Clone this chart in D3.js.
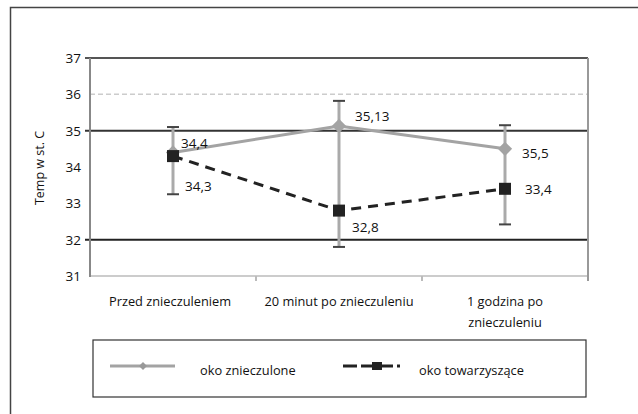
<!DOCTYPE html>
<html><head><meta charset="utf-8">
<script src="https://cdn.jsdelivr.net/npm/d3@7/dist/d3.min.js"></script>
<style>body{margin:0;background:#fff;} svg{display:block;} text{font-family:"Open Sans","DejaVu Sans",sans-serif;fill:#111;}</style>
</head><body>
<svg id="c" width="638" height="414"></svg>
<script>
const categories = [["Przed znieczuleniem"], ["20 minut po znieczuleniu"], ["1 godzina po", "znieczuleniu"]];
const yTicks = [31, 32, 33, 34, 35, 36, 37];
const seriesNames = ["oko znieczulone", "oko towarzyszące"];
const znieczulone = [34.4, 35.13, 34.5];
const znieczuloneLabels = ["34,4", "35,13", "35,5"];
const znieczuloneErrTop = [35.1, 35.82, 35.15];
const towarzyszace = [34.3, 32.8, 33.4];
const towarzyszaceLabels = ["34,3", "32,8", "33,4"];
const towarzyszaceErrBottom = [33.25, 31.8, 32.42];
const yTitle = "Temp w st. C";

const svg = d3.select("#c");
const L = 90, R = 588, T = 58, B = 276;
const x = d3.scaleBand().domain(d3.range(categories.length)).range([L, R]);
const y = d3.scaleLinear().domain([31, 37]).range([B, T]);
const cx = i => x(i) + x.bandwidth() / 2;

// outer frame
svg.append("path").attr("d", "M10.5,414 L10.5,7.5 L638,7.5").attr("fill", "none").attr("stroke", "#444").attr("stroke-width", 1.5);

// gridlines
const gridStyle = {37: ["#555", 2, null], 36: ["#ccc", 1.5, "5,3"], 35: ["#333", 2, null], 32: ["#222", 2, null], 31: ["#ccc", 2, null]};
yTicks.forEach(t => {
  const g = gridStyle[t];
  if (!g) return;
  svg.append("line").attr("x1", t === 36 || t === 31 ? L : L - 5).attr("x2", R).attr("y1", y(t)).attr("y2", y(t))
    .attr("stroke", g[0]).attr("stroke-width", g[1]).attr("stroke-dasharray", g[2]);
});
// left axis & right border
svg.append("line").attr("x1", L).attr("x2", L).attr("y1", T).attr("y2", B + 1).attr("stroke", "#888").attr("stroke-width", 2);
svg.append("line").attr("x1", R).attr("x2", R).attr("y1", T).attr("y2", B + 5).attr("stroke", "#999").attr("stroke-width", 2);
// x tick marks between categories
d3.range(1, categories.length).forEach(i => {
  svg.append("line").attr("x1", x(i)).attr("x2", x(i)).attr("y1", B).attr("y2", B + 5).attr("stroke", "#bbb").attr("stroke-width", 2);
});

// y tick labels
svg.append("g").selectAll("text").data(yTicks).join("text")
  .attr("x", 81).attr("y", d => y(d)).attr("dy", "0.36em").attr("text-anchor", "end")
  .attr("font-size", 13.5).text(d => d);

// y title
svg.append("text").attr("transform", `translate(44,${(T + B) / 2 + 1}) rotate(-90)`).attr("text-anchor", "middle")
  .attr("font-size", 12.5).text(yTitle);

// x labels
categories.forEach((lines, i) => {
  lines.forEach((s, j) => {
    svg.append("text").attr("x", cx(i) + (i === 0 ? -3 : 0)).attr("y", B + 30 + j * 21).attr("text-anchor", "middle")
      .attr("font-size", 12.8).text(s);
  });
});

// error bars
const errColor = "#aaa";
categories.forEach((c, i) => {
  const top = y(znieczuloneErrTop[i]), bot = y(towarzyszaceErrBottom[i]);
  svg.append("line").attr("x1", cx(i)).attr("x2", cx(i)).attr("y1", top).attr("y2", bot).attr("stroke", errColor).attr("stroke-width", 3);
  [top, bot].forEach(v => svg.append("line").attr("x1", cx(i) - 6).attr("x2", cx(i) + 6).attr("y1", v).attr("y2", v).attr("stroke", "#444").attr("stroke-width", 2));
});

// gray series
const line = d3.line().x((d, i) => cx(i)).y(d => y(d));
svg.append("path").attr("d", line(znieczulone)).attr("fill", "none").attr("stroke", "#a3a3a3").attr("stroke-width", 3);
svg.append("g").selectAll("path").data(znieczulone).join("path")
  .attr("d", d3.symbol().type(d3.symbolDiamond2).size(130)())
  .attr("transform", (d, i) => `translate(${cx(i)},${y(d)})`).attr("fill", "#a3a3a3");

// black dashed series
svg.append("path").attr("d", line(towarzyszace)).attr("fill", "none").attr("stroke", "#222").attr("stroke-width", 3).attr("stroke-dasharray", "10,7");
svg.append("g").selectAll("rect").data(towarzyszace).join("rect")
  .attr("x", (d, i) => cx(i) - 6).attr("y", d => y(d) - 6).attr("width", 12).attr("height", 12).attr("fill", "#222");

// data labels
const lblOffZ = [[8, -9], [16, -10], [17, 4]];
znieczulone.forEach((d, i) => {
  svg.append("text").attr("x", cx(i) + lblOffZ[i][0]).attr("y", y(d) + lblOffZ[i][1]).attr("dy", "0.36em")
    .attr("font-size", 13.5).text(znieczuloneLabels[i]);
});
const lblOffT = [[12, 30], [13, 17], [20, 0]];
towarzyszace.forEach((d, i) => {
  svg.append("text").attr("x", cx(i) + lblOffT[i][0]).attr("y", y(d) + lblOffT[i][1]).attr("dy", "0.36em")
    .attr("font-size", 13.5).text(towarzyszaceLabels[i]);
});

// legend
svg.append("rect").attr("x", 93).attr("y", 340).attr("width", 493).attr("height", 57).attr("fill", "none").attr("stroke", "#333").attr("stroke-width", 1.2);
const ly = 366;
svg.append("line").attr("x1", 110).attr("x2", 175).attr("y1", ly).attr("y2", ly).attr("stroke", "#a3a3a3").attr("stroke-width", 3);
svg.append("path").attr("d", d3.symbol().type(d3.symbolDiamond2).size(40)()).attr("transform", `translate(143,${ly})`).attr("fill", "#999");
svg.append("text").attr("x", 200).attr("y", ly + 4).attr("dy", "0.36em").attr("font-size", 12.8).text(seriesNames[0]);
svg.append("line").attr("x1", 343).attr("x2", 400).attr("y1", ly).attr("y2", ly).attr("stroke", "#222").attr("stroke-width", 3).attr("stroke-dasharray", "14,4");
svg.append("rect").attr("x", 372).attr("y", ly - 4).attr("width", 10).attr("height", 8).attr("fill", "#222");
svg.append("text").attr("x", 419).attr("y", ly + 4).attr("dy", "0.36em").attr("font-size", 12.8).text(seriesNames[1]);
</script>
</body></html>
